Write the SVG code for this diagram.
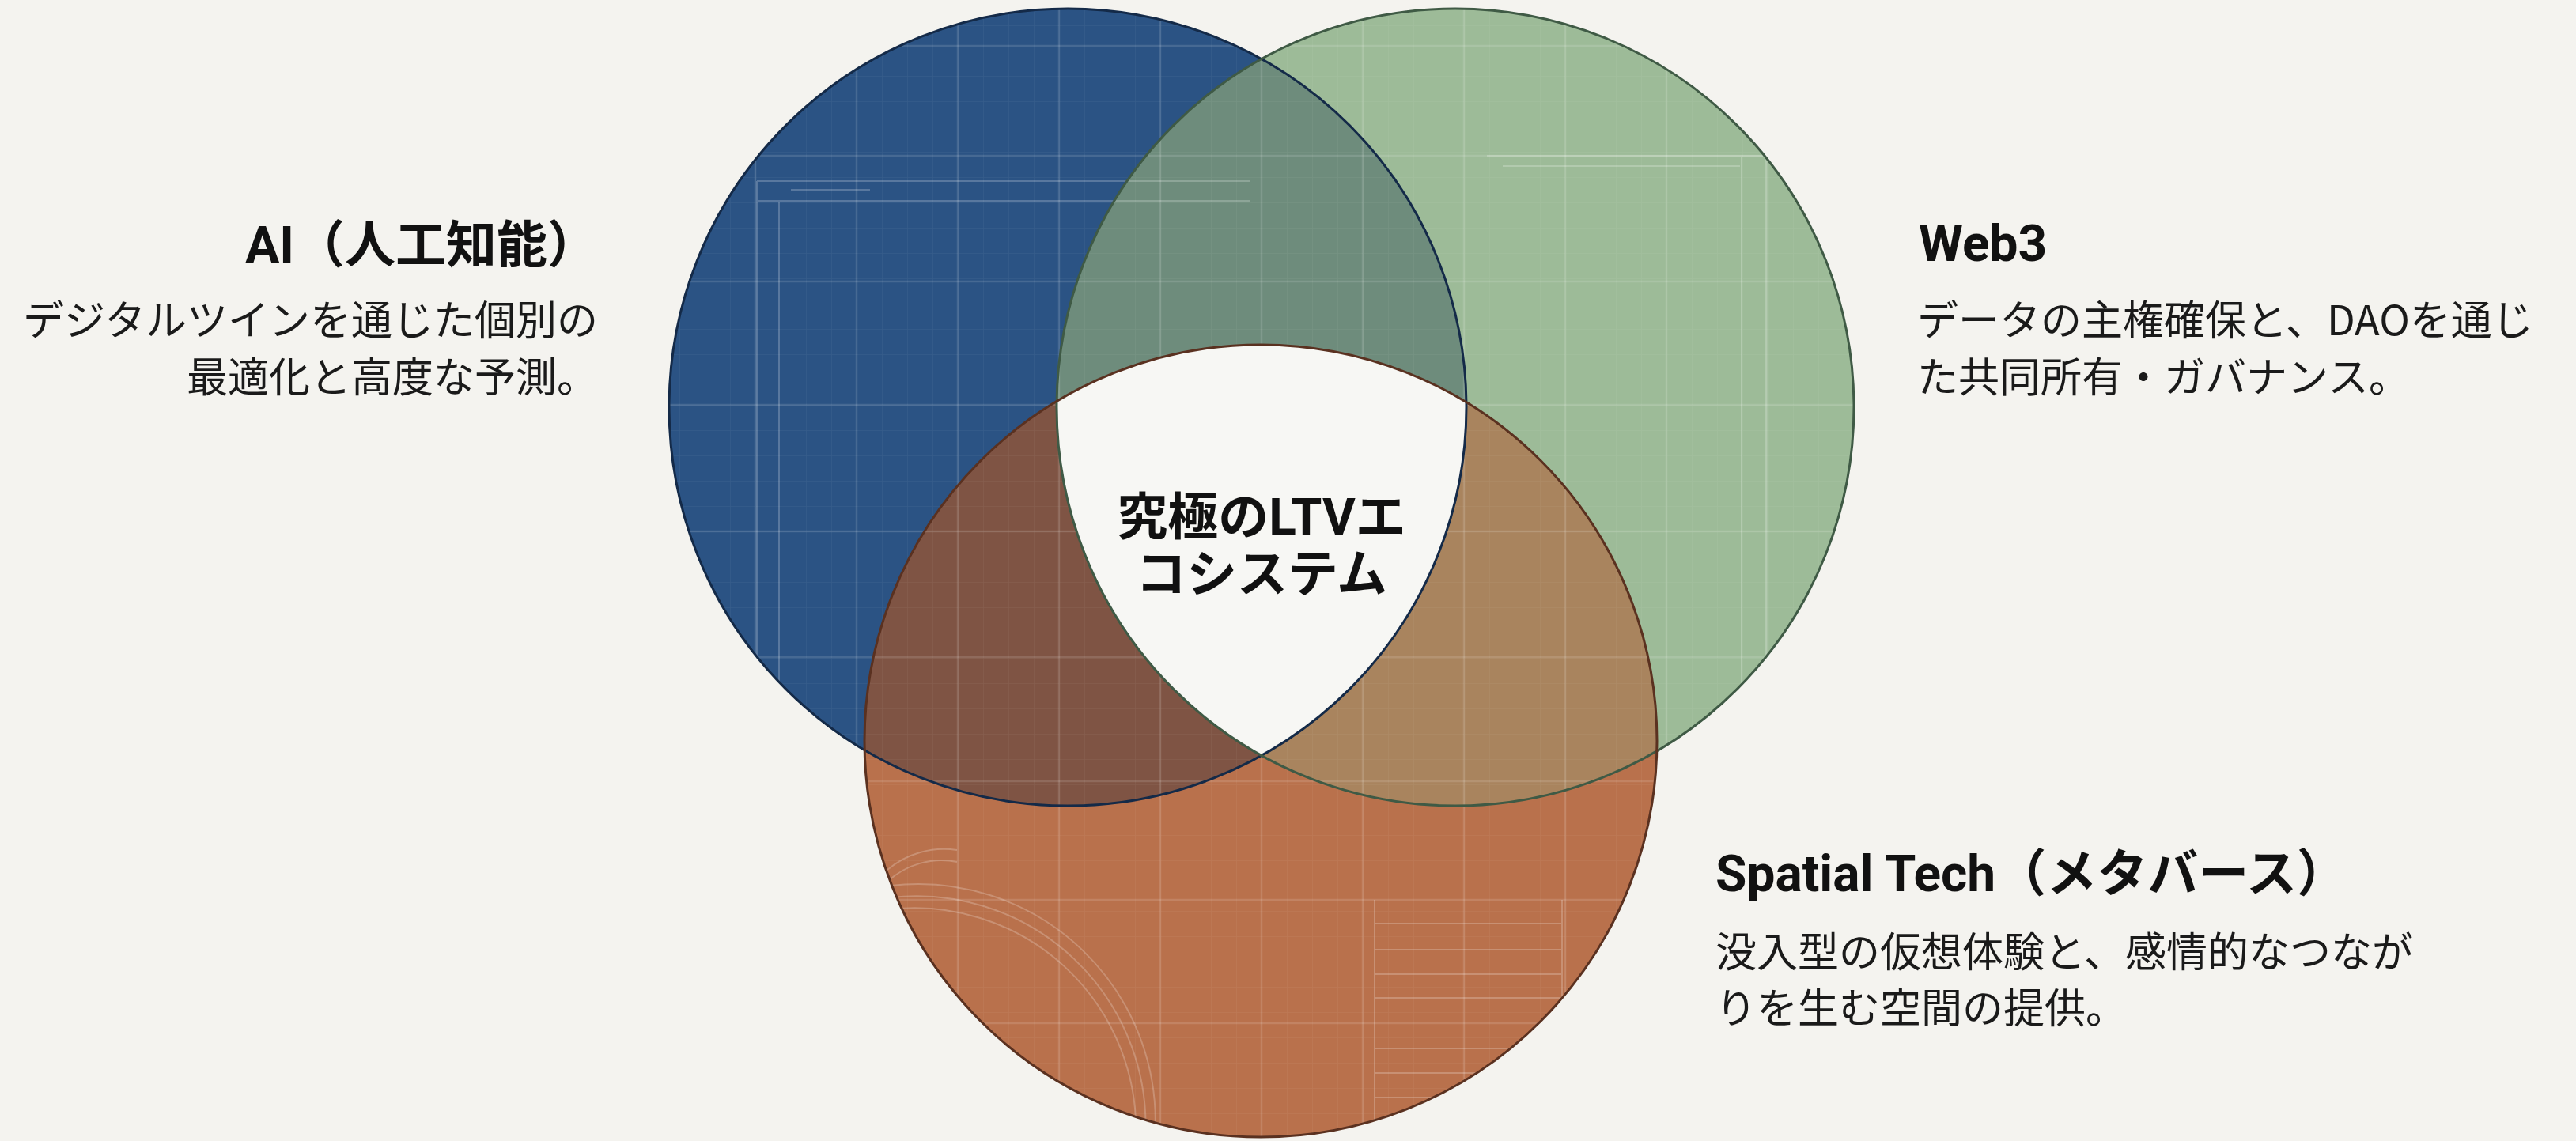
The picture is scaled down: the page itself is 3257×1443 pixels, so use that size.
<svg xmlns="http://www.w3.org/2000/svg" width="3257" height="1443" viewBox="0 0 3257 1443">
<style>
.t{font-family:"Roboto","Noto Sans CJK JP",sans-serif;font-weight:700;font-size:64px;fill:#111111}
.d{font-family:"Noto Sans CJK JP",sans-serif;font-weight:400;font-size:52px;fill:#1a1a1a}
.c{font-family:"Roboto","Noto Sans CJK JP",sans-serif;font-weight:700;font-size:64px;fill:#111111;text-anchor:middle}
.maj{stroke:#ffffff;stroke-opacity:0.13;stroke-width:2.5;fill:none}
.deco{stroke:#ffffff;stroke-opacity:0.22;stroke-width:2;fill:none}
</style>
<defs>
<clipPath id="cB"><circle cx="1350" cy="515" r="504"/></clipPath>
<clipPath id="cG"><circle cx="1840" cy="515" r="504"/></clipPath>
<clipPath id="cO"><circle cx="1594" cy="937" r="501"/></clipPath>
<clipPath id="cAll"><circle cx="1350" cy="515" r="504"/><circle cx="1840" cy="515" r="504"/><circle cx="1594" cy="937" r="501"/></clipPath>
<pattern id="fine" patternUnits="userSpaceOnUse" x="1595" y="0" width="32" height="32">
<path d="M0,0V32M0,0H32" stroke="#ffffff" stroke-opacity="0.05" stroke-width="1.5" fill="none"/>
</pattern>
</defs>
<rect width="3257" height="1443" fill="#f4f3ef"/>

<g id="circle-ai">
<circle cx="1350" cy="515" r="504" fill="#2b5384"/>
</g>
<g id="circle-web3">
<circle cx="1840" cy="515" r="504" fill="#9dbb98"/>
<g clip-path="url(#cB)"><circle cx="1840" cy="515" r="504" fill="#6e8c7c"/></g>
</g>
<g id="circle-spatial">
<circle cx="1594" cy="937" r="501" fill="#b9714c"/>
<g clip-path="url(#cB)"><circle cx="1594" cy="937" r="501" fill="#7f5444"/></g>
<g clip-path="url(#cG)"><circle cx="1594" cy="937" r="501" fill="#a9845e"/></g>
</g>

<g id="texture" clip-path="url(#cAll)">
<rect x="840" y="0" width="1510" height="1443" fill="url(#fine)"/>
<path class="maj" d="M1083,0V1443M1211,0V1443M1339,0V1443M1467,0V1443M1595,0V1443M1723,0V1443M1851,0V1443M1979,0V1443M2107,0V1443M2235,0V1443M955,0V1443"/>
<path class="maj" d="M840,58H2350M840,197H2350M840,356H2350M840,512H2350M840,672H2350M840,831H2350M840,988H2350M840,1138H2350M840,1294H2350"/>
<path class="deco" d="M957,229H1580M957,254H1580M957,229V900M985,254V900M1000,240H1100"/>
<path class="deco" d="M1880,197H2233M2202,197V872M2233,197V872M1900,210H2200"/>
<path class="deco" d="M1738,1138V1440M1975,1138V1430M1738,1168H1975M1738,1201H1975M1738,1232H1975M1738,1262H1975M1738,1326H1975M1738,1357H1975M1738,1388H1975"/>
<path class="deco" d="M1126,1120A300,300 0 0 1 1460,1440M1126,1135A290,290 0 0 1 1448,1440M1126,1150A280,280 0 0 1 1436,1440M1122,1100A110,110 0 0 1 1210,1075M1122,1115A100,100 0 0 1 1210,1090"/>
</g>

<g id="center">
<g clip-path="url(#cB)"><g clip-path="url(#cG)"><circle cx="1594" cy="937" r="501" fill="#f7f7f4"/></g></g>
</g>

<g id="outlines" fill="none">
<circle cx="1350" cy="515" r="504" stroke="#142a48" stroke-width="3"/>
<circle cx="1840" cy="515" r="504" stroke="#3f5a45" stroke-width="3"/>
<circle cx="1594" cy="937" r="501" stroke="#5a3120" stroke-width="3"/>
</g>

<g id="center-label">
<text class="c" x="1595" y="676">究極のLTVエ</text>
<text class="c" x="1595" y="748">コシステム</text>
</g>

<g id="label-ai" text-anchor="end">
<text class="t" x="756" y="332">AI（人工知能）</text>
<text class="d" x="756" y="424">デジタルツインを通じた個別の</text>
<text class="d" x="756" y="496">最適化と高度な予測。</text>
</g>

<g id="label-web3">
<text class="t" x="2426" y="330">Web3</text>
<text class="d" x="2424" y="424">データの主権確保と、DAOを通じ</text>
<text class="d" x="2424" y="496">た共同所有・ガバナンス。</text>
</g>

<g id="label-spatial">
<text class="t" x="2169" y="1127">Spatial Tech（メタバース）</text>
<text class="d" x="2169" y="1223">没入型の仮想体験と、感情的なつなが</text>
<text class="d" x="2169" y="1294">りを生む空間の提供。</text>
</g>
</svg>
